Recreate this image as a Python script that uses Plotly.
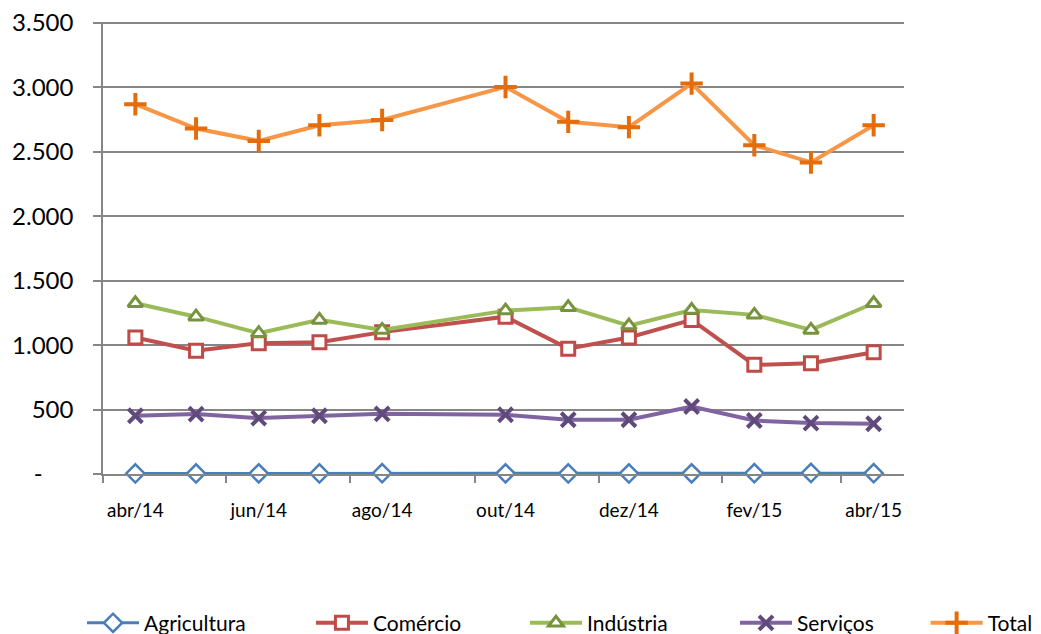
import plotly.graph_objects as go

months = ["2014-04-01", "2014-05-01", "2014-06-01", "2014-07-01", "2014-08-01",
          "2014-10-01", "2014-11-01", "2014-12-01", "2015-01-01", "2015-02-01",
          "2015-03-01", "2015-04-01"]

agricultura = [4, 4, 5, 4, 6, 5, 4, 4, 5, 6, 8, 6]
comercio = [1059, 956, 1015, 1023, 1101, 1221, 973, 1059, 1196, 847, 860, 945]
industria = [1325, 1221, 1093, 1196, 1118, 1268, 1294, 1152, 1273, 1235, 1118, 1325]
servicos = [452, 465, 434, 452, 467, 460, 421, 421, 524, 415, 395, 390]
total = [2870, 2681, 2585, 2707, 2747, 3004, 2733, 2692, 3030, 2552, 2418, 2707]

x_tickvals = ["2014-04-01", "2014-06-01", "2014-08-01", "2014-10-01",
              "2014-12-01", "2015-02-01", "2015-04-01"]
x_ticktext = ["abr/14", "jun/14", "ago/14", "out/14", "dez/14", "fev/15", "abr/15"]
x_boundaries = ["2014-03-16", "2014-05-16", "2014-07-16", "2014-09-16",
                "2014-11-16", "2015-01-16", "2015-03-16"]

y_tickvals = [0, 500, 1000, 1500, 2000, 2500, 3000, 3500]
y_ticktext = ["-\u00a0\u00a0\u00a0\u00a0\u00a0", "500", "1.000", "1.500", "2.000",
              "2.500", "3.000", "3.500"]

FONT = "Lato, 'Liberation Sans', sans-serif"

series = [
    ("Agricultura", agricultura, "#4A7EBB", "#4A7EBB", "diamond", "white", 3, 14, 2.5),
    ("Comércio", comercio, "#C0504D", "#BE4B48", "square", "white", 4, 13, 3),
    ("Indústria", industria, "#9BBB59", "#77933C", "triangle-up", "white", 4, 13, 3),
    ("Serviços", servicos, "#8064A2", "#604A7B", "x-thin", "#604A7B", 4, 14, 4),
    ("Total", total, "#F79646", "#E46C0A", "cross-thin", "#E46C0A", 4, 16, 4),
]
legend_x = [-0.0262, 0.2596, 0.5268, 0.7890, 1.0270]

fig = go.Figure()
legend_layouts = {}
for i, (name, vals, lc, mc, sym, fill, lw, ms, mlw) in enumerate(series):
    lg = "legend" if i == 0 else f"legend{i + 1}"
    fig.add_trace(go.Scatter(
        x=months, y=vals, name=name, mode="lines+markers",
        line=dict(color=lc, width=lw),
        marker=dict(symbol=sym, size=ms, color=fill, line=dict(color=mc, width=mlw)),
        cliponaxis=False, legend=lg,
    ))
    legend_layouts[lg] = dict(
        orientation="h", x=legend_x[i], xanchor="left", y=-0.33, yanchor="middle",
        font=dict(size=21, color="#000000"), itemwidth=52,
        bgcolor="rgba(0,0,0,0)",
    )

fig.update_layout(
    width=1033, height=626,
    margin=dict(l=95, r=137, t=14, b=160, autoexpand=False),
    paper_bgcolor="white", plot_bgcolor="white",
    font=dict(family=FONT, color="#000000"),
    showlegend=True,
    xaxis=dict(
        type="date", automargin=False,
        range=["2014-03-16", "2015-04-16"],
        tickmode="array", tickvals=x_tickvals, ticktext=x_ticktext,
        ticks="", showgrid=False, zeroline=False,
        showline=True, linecolor="#868686", linewidth=1.5,
        tickfont=dict(size=19, color="#000000"),
        ticklabelstandoff=18, ticklabeloverflow="allow",
        minor=dict(tickmode="array", tickvals=x_boundaries, ticks="outside",
                   ticklen=7, tickcolor="#868686", tickwidth=1.5, showgrid=False),
    ),
    yaxis=dict(
        range=[0, 3508], automargin=False,
        tickmode="array", tickvals=y_tickvals, ticktext=y_ticktext,
        ticks="outside", ticklen=8, tickcolor="#868686", tickwidth=1.5,
        showgrid=True, gridcolor="#868686", gridwidth=1.5,
        zeroline=False,
        showline=True, linecolor="#868686", linewidth=1.5,
        tickfont=dict(size=24, color="#000000"),
        ticklabelstandoff=15, ticklabeloverflow="allow",
    ),
    **legend_layouts,
)

fig.write_html("out.html")
